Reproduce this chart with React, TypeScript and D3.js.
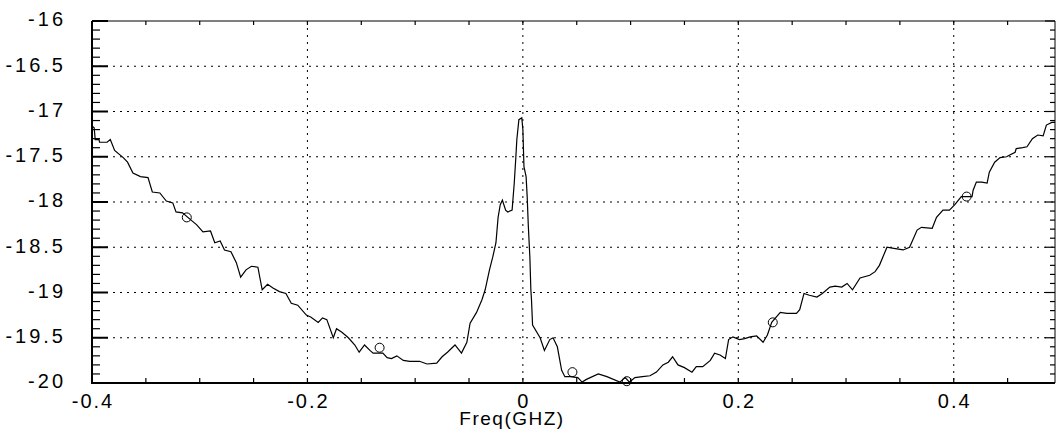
import React from "react";
import * as d3 from "d3";

const freq: number[] = [
  -0.400, -0.398, -0.397, -0.3935, -0.393, -0.386, -0.383, -0.379, -0.371, -0.367,
  -0.362, -0.355, -0.348, -0.344, -0.337, -0.331, -0.325, -0.322, -0.316, -0.308,
  -0.303, -0.297, -0.290, -0.286, -0.281, -0.277, -0.271, -0.266, -0.262, -0.257,
  -0.252, -0.246, -0.242, -0.237, -0.232, -0.226, -0.220, -0.215, -0.209, -0.201,
  -0.197, -0.190, -0.186, -0.182, -0.176, -0.173, -0.168, -0.162, -0.156, -0.152,
  -0.147, -0.142, -0.139, -0.130, -0.126, -0.122, -0.117, -0.111, -0.105, -0.096,
  -0.089, -0.080, -0.075, -0.070, -0.063, -0.057, -0.052, -0.049, -0.043, -0.038,
  -0.035, -0.031, -0.028, -0.025, -0.023, -0.021, -0.019, -0.016, -0.014, -0.010,
  -0.008, -0.0065, -0.0056, -0.0037, -0.001, 0.000, 0.001, 0.003, 0.004, 0.005,
  0.0065, 0.0074, 0.008, 0.009, 0.016, 0.020, 0.025, 0.028, 0.032, 0.036,
  0.039, 0.044, 0.051, 0.055, 0.059, 0.070, 0.078, 0.090, 0.095, 0.099,
  0.104, 0.111, 0.118, 0.124, 0.130, 0.135, 0.139, 0.144, 0.150, 0.157,
  0.161, 0.167, 0.174, 0.178, 0.183, 0.188, 0.191, 0.195, 0.201, 0.206,
  0.211, 0.217, 0.223, 0.227, 0.231, 0.239, 0.245, 0.254, 0.257, 0.261,
  0.266, 0.273, 0.278, 0.285, 0.290, 0.296, 0.301, 0.306, 0.313, 0.322,
  0.327, 0.331, 0.338, 0.343, 0.353, 0.359, 0.366, 0.370, 0.380, 0.384,
  0.390, 0.396, 0.401, 0.407, 0.417, 0.418, 0.421, 0.426, 0.431, 0.433,
  0.438, 0.443, 0.449, 0.452, 0.457, 0.458, 0.464, 0.468, 0.473, 0.478,
  0.483, 0.486, 0.491, 0.494,
];

const level: number[] = [
  -17.16, -17.18, -17.31, -17.31, -17.34, -17.34, -17.31, -17.43, -17.51, -17.56,
  -17.68, -17.72, -17.73, -17.89, -17.90, -17.99, -18.01, -18.11, -18.12, -18.20,
  -18.25, -18.33, -18.32, -18.45, -18.43, -18.53, -18.55, -18.67, -18.83, -18.75,
  -18.71, -18.72, -18.97, -18.91, -18.95, -18.99, -19.01, -19.12, -19.14, -19.25,
  -19.27, -19.33, -19.28, -19.30, -19.50, -19.40, -19.44, -19.50, -19.58, -19.66,
  -19.58, -19.64, -19.67, -19.67, -19.72, -19.73, -19.70, -19.75, -19.76, -19.76,
  -19.79, -19.78, -19.71, -19.66, -19.58, -19.67, -19.55, -19.34, -19.22, -19.08,
  -18.97, -18.75, -18.61, -18.45, -18.17, -18.03, -17.98, -18.09, -18.11, -18.09,
  -17.79, -17.50, -17.31, -17.09, -17.07, -17.20, -17.61, -17.72, -17.94, -18.25,
  -18.61, -18.97, -19.08, -19.36, -19.50, -19.64, -19.52, -19.50, -19.60, -19.86,
  -19.93, -19.93, -19.94, -19.99, -19.96, -19.90, -19.93, -19.99, -19.94, -19.99,
  -19.94, -19.93, -19.92, -19.88, -19.80, -19.77, -19.71, -19.80, -19.83, -19.88,
  -19.82, -19.82, -19.75, -19.67, -19.69, -19.73, -19.52, -19.49, -19.52, -19.51,
  -19.49, -19.48, -19.55, -19.47, -19.33, -19.22, -19.23, -19.23, -19.19, -19.01,
  -19.03, -19.05, -19.01, -18.94, -18.93, -18.94, -18.90, -18.97, -18.84, -18.81,
  -18.77, -18.70, -18.50, -18.51, -18.53, -18.50, -18.31, -18.28, -18.29, -18.17,
  -18.09, -18.09, -18.03, -17.94, -17.94, -17.87, -17.78, -17.78, -17.79, -17.67,
  -17.56, -17.51, -17.50, -17.48, -17.45, -17.41, -17.40, -17.39, -17.30, -17.26,
  -17.27, -17.15, -17.12, -17.12,
];

const markerFreq: number[] = [-0.312, -0.133, 0.046, 0.0965, 0.232, 0.412];
const markerLevel: number[] = [-18.17, -19.61, -19.88, -19.98, -19.33, -17.94];

const xTickValues: number[] = [-0.4, -0.2, 0, 0.2, 0.4];
const xTickLabels: string[] = ["-0.4", "-0.2", "0", "0.2", "0.4"];
const yTickValues: number[] = [-16, -16.5, -17, -17.5, -18, -18.5, -19, -19.5, -20];
const yTickLabels: string[] = ["-16", "-16.5", "-17", "-17.5", "-18", "-18.5", "-19", "-19.5", "-20"];
const xLabel = "Freq(GHZ)";

const W = 1056;
const H = 431;
const L = 92;
const R = 1055;
const T = 21;
const B = 383;

export default function App() {
  const x = d3.scaleLinear().domain([-0.4, 0.494]).range([L, R]);
  const y = d3.scaleLinear().domain([-20, -16]).range([B, T]);

  const pts: [number, number][] = freq.map((f, i) => [f, level[i]]);
  const line = d3
    .line<[number, number]>()
    .x((d) => x(d[0]))
    .y((d) => y(d[1]));

  const xMinor = d3.range(-0.4, 0.494, 0.05).map((v) => +v.toFixed(3));
  const yMinor = d3.range(0, 41).map((i) => -16 - i * 0.1);

  const font = "'Liberation Sans', Arial, sans-serif";

  return (
    <svg
      width={W}
      height={H}
      style={{ position: "absolute", left: 0, top: 0, background: "#fff" }}
    >
      <rect x={0} y={0} width={W} height={H} fill="#fff" />
      {yTickValues
        .filter((v) => v !== -16 && v !== -20)
        .map((v) => (
          <line
            key={"hg" + v}
            x1={L}
            x2={R}
            y1={y(v)}
            y2={y(v)}
            stroke="#000"
            strokeWidth={1}
            strokeDasharray="2,5"
          />
        ))}
      {xTickValues
        .filter((v) => v !== -0.4)
        .map((v) => (
          <line
            key={"vg" + v}
            x1={x(v)}
            x2={x(v)}
            y1={T}
            y2={B}
            stroke="#000"
            strokeWidth={1}
            strokeDasharray="2,5"
          />
        ))}
      <line x1={L} x2={R} y1={T} y2={T} stroke="#000" strokeWidth={1} />
      <line x1={R} x2={R} y1={T} y2={B} stroke="#000" strokeWidth={1} />
      <line x1={L} x2={L} y1={T} y2={B + 1} stroke="#000" strokeWidth={2} />
      <line x1={L - 1} x2={R} y1={B} y2={B} stroke="#000" strokeWidth={2} />
      {xMinor.map((v) => (
        <g key={"xm" + v}>
          <line x1={x(v)} x2={x(v)} y1={B} y2={B - 5} stroke="#000" strokeWidth={1.2} />
          <line x1={x(v)} x2={x(v)} y1={T} y2={T + 4} stroke="#000" strokeWidth={1.2} />
        </g>
      ))}
      {yMinor.map((v, i) => {
        const major = i % 5 === 0;
        const len = major ? 16 : 8;
        return (
          <g key={"ym" + i}>
            <line x1={L} x2={L + len} y1={y(v)} y2={y(v)} stroke="#000" strokeWidth={major ? 2 : 1.2} />
            <line x1={R} x2={R - (major ? 10 : 5)} y1={y(v)} y2={y(v)} stroke="#000" strokeWidth={1.2} />
          </g>
        );
      })}
      <path d={line(pts) || ""} fill="none" stroke="#000" strokeWidth={1.2} />
      {markerFreq.map((f, i) => (
        <circle
          key={"mk" + i}
          cx={x(f)}
          cy={y(markerLevel[i])}
          r={4.5}
          fill="none"
          stroke="#000"
          strokeWidth={1}
        />
      ))}
      {yTickValues.map((v, i) => (
        <text
          key={"yl" + v}
          x={66}
          y={y(v)}
          textAnchor="end"
          dominantBaseline="middle"
          fontFamily={font}
          fontSize={20}
          letterSpacing={3}
          fill="#000"
        >
          {yTickLabels[i]}
        </text>
      ))}
      {xTickValues.map((v, i) => (
        <text
          key={"xl" + v}
          x={x(v) + 1}
          y={408}
          textAnchor="middle"
          fontFamily={font}
          fontSize={20}
          letterSpacing={2}
          fill="#000"
        >
          {xTickLabels[i]}
        </text>
      ))}
      <text
        x={512}
        y={425}
        textAnchor="middle"
        fontFamily={font}
        fontSize={19}
        letterSpacing={1.5}
        fill="#000"
      >
        {xLabel}
      </text>
    </svg>
  );
}
